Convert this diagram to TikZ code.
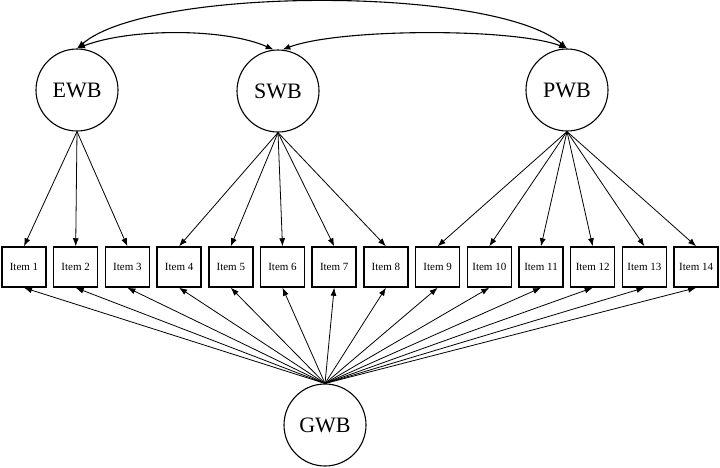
\documentclass[tikz,border=0pt]{standalone}
\usepackage{fontspec}
\setmainfont{Liberation Serif}
\usetikzlibrary{arrows.meta}
\begin{document}
\begin{tikzpicture}[x=1pt,y=-1pt,
  latent/.style={circle,draw,line width=1.1pt,minimum size=82pt,inner sep=0pt,font=\fontsize{22}{24}\selectfont},
  itembox/.style={rectangle,draw,line width=1.5pt,minimum width=44pt,minimum height=40pt,inner sep=0pt,font=\fontsize{11}{12}\selectfont},
  load/.style={-{Latex[length=8pt,width=6pt]},line width=0.8pt},
  cov/.style={{Latex[length=8pt,width=6pt]}-{Latex[length=8pt,width=6pt]},line width=1.1pt}]
\useasboundingbox (0,0) rectangle (720,467);
\node[latent] (ewb) at (77,90) {EWB};
\node[latent] (swb) at (278,91) {SWB};
\node[latent] (pwb) at (567,90) {PWB};
\node[latent] (gwb) at (325,425) {GWB};
\foreach \i in {1,...,14}{
  \node[itembox] (i\i) at ({24+(\i-1)*51.7},267) {Item \i};
}
\foreach \i in {1,2,3}{ \draw[load] (ewb.south) -- (i\i.north); }
\foreach \i in {4,...,8}{ \draw[load] (swb.south) -- (i\i.north); }
\foreach \i in {9,...,14}{ \draw[load] (pwb.south) -- (i\i.north); }
\foreach \i in {1,...,14}{ \draw[load] (gwb.north) -- (i\i.south); }
\draw[cov] (ewb.north) .. controls (150,-14) and (494,-14) .. (pwb.north);
\draw[cov] (ewb.north) .. controls (130,28) and (225,28) .. (swb.96);
\draw[cov] (swb.84) .. controls (340,28) and (515,28) .. (pwb.north);
\end{tikzpicture}
\end{document}
